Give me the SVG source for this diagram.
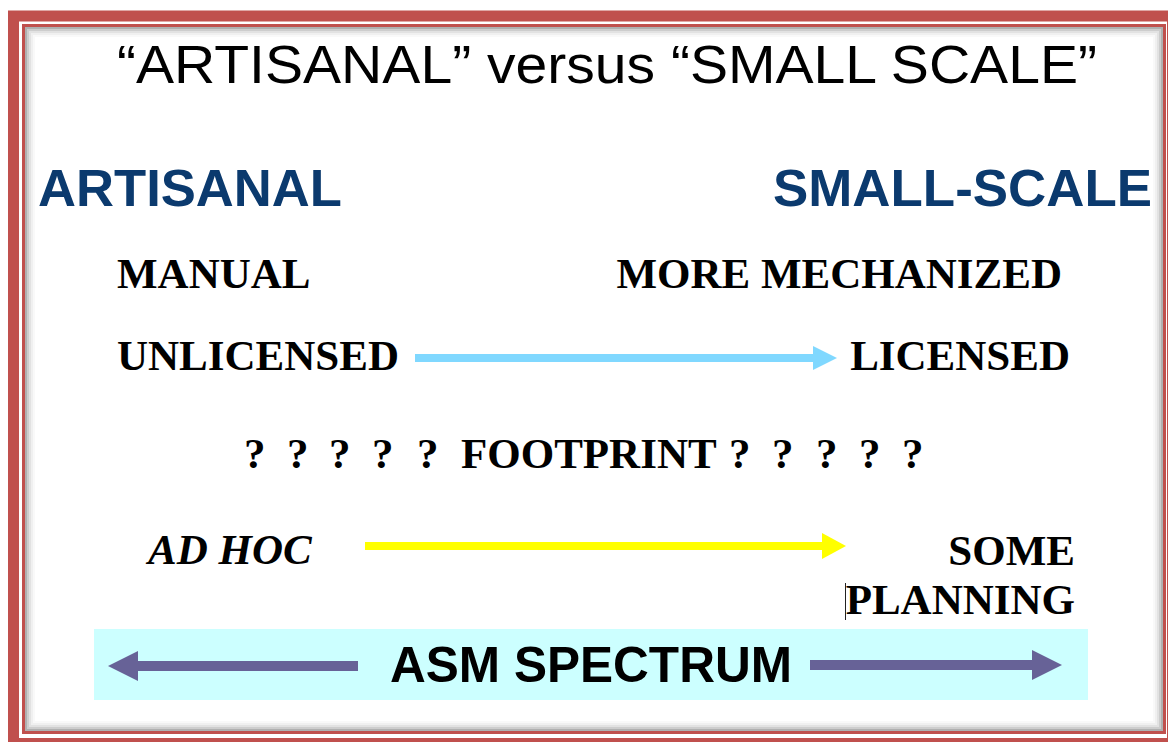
<svg xmlns="http://www.w3.org/2000/svg" width="1168" height="742" viewBox="0 0 1168 742">
<style>
.title{font-family:"Liberation Sans",Arial,sans-serif;font-size:53px;fill:#000}
.head{font-family:"Liberation Sans",Arial,sans-serif;font-weight:bold;font-size:52px;fill:#0B3A6E}
.tm{font-family:"Liberation Serif","Times New Roman",serif;font-weight:bold;font-size:43px;fill:#000}
.it{font-style:italic}
.asm{font-family:"Liberation Sans",Arial,sans-serif;font-weight:bold;font-size:50px;fill:#000}
.sh{fill:none;stroke:#707070}
</style>
<defs>
<marker id="mBlue" viewBox="0 0 24 24" refX="0" refY="12" markerUnits="userSpaceOnUse" markerWidth="24" markerHeight="24" orient="auto"><path d="M0,0 L24,12 L0,24 Z" fill="#80D8FF"/></marker>
<marker id="mYellow" viewBox="0 0 24 26" refX="0" refY="13" markerUnits="userSpaceOnUse" markerWidth="24" markerHeight="26" orient="auto"><path d="M0,0 L24,13 L0,26 Z" fill="#FFFF00"/></marker>
<marker id="mPurple" viewBox="0 0 30 30" refX="0" refY="15" markerUnits="userSpaceOnUse" markerWidth="30" markerHeight="30" orient="auto"><path d="M0,0 L30,15 L0,30 Z" fill="#676297"/></marker>
</defs>
<rect x="0" y="0" width="1168" height="742" fill="#fff"/>
<g id="frame">
<rect x="13.5" y="16" width="1159" height="727.5" fill="none" stroke="#C0504D" stroke-width="11"/>
<rect x="23.5" y="25.5" width="1141" height="707" fill="none" stroke="#C0504D" stroke-width="3"/>
<rect class="sh" x="26" y="28" width="1136" height="702" stroke-width="2" stroke-opacity="0.55"/>
<rect class="sh" x="28" y="30" width="1132" height="698" stroke-width="2" stroke-opacity="0.35"/>
<rect class="sh" x="30" y="32" width="1128" height="694" stroke-width="2" stroke-opacity="0.2"/>
<rect class="sh" x="32" y="34" width="1124" height="690" stroke-width="2" stroke-opacity="0.1"/>
<rect class="sh" x="34" y="36" width="1120" height="686" stroke-width="2" stroke-opacity="0.04"/>
</g>
<g id="title"><text class="title" x="117" y="83" textLength="980" lengthAdjust="spacingAndGlyphs">“ARTISANAL” versus “SMALL SCALE”</text></g>
<g id="artisanal"><text class="head" x="38" y="206" textLength="304" lengthAdjust="spacingAndGlyphs">ARTISANAL</text></g>
<g id="smallscale"><text class="head" x="773" y="206" textLength="379" lengthAdjust="spacingAndGlyphs">SMALL-SCALE</text></g>
<g id="manual"><text class="tm" x="117" y="288">MANUAL</text></g>
<g id="mechanized"><text class="tm" x="1062" y="288" text-anchor="end">MORE MECHANIZED</text></g>
<g id="unlicensed"><text class="tm" x="117" y="370">UNLICENSED</text></g>
<g id="licensed"><text class="tm" x="1070" y="370" text-anchor="end">LICENSED</text></g>
<g id="footprint"><text class="tm" y="468"><tspan x="244">?</tspan><tspan x="287">?</tspan><tspan x="329">?</tspan><tspan x="372">?</tspan><tspan x="417">?</tspan><tspan x="461">FOOTPRINT</tspan><tspan x="729">?</tspan><tspan x="772">?</tspan><tspan x="816">?</tspan><tspan x="859">?</tspan><tspan x="902">?</tspan></text></g>
<g id="adhoc"><text class="tm it" x="148" y="564">AD HOC</text></g>
<g id="planning">
<text class="tm" x="1075" y="565" text-anchor="end">SOME</text>
<text class="tm" x="1075" y="614" text-anchor="end">PLANNING</text>
<line x1="845.5" y1="583" x2="845.5" y2="620" stroke="#222" stroke-width="1"/>
</g>
<g id="spectrum">
<rect x="94" y="629" width="994" height="71" fill="#CCFFFF"/>
<text class="asm" x="390" y="682" textLength="402" lengthAdjust="spacingAndGlyphs">ASM SPECTRUM</text>
</g>
<g id="connectors">
<line x1="415" y1="358" x2="813" y2="358" stroke="#80D8FF" stroke-width="8" marker-end="url(#mBlue)"/>
<line x1="365" y1="546" x2="822" y2="546" stroke="#FFFF00" stroke-width="8" marker-end="url(#mYellow)"/>
<line x1="358" y1="666" x2="138" y2="666" stroke="#676297" stroke-width="10" marker-end="url(#mPurple)"/>
<line x1="810" y1="665" x2="1032" y2="665" stroke="#676297" stroke-width="10" marker-end="url(#mPurple)"/>
</g>
</svg>
